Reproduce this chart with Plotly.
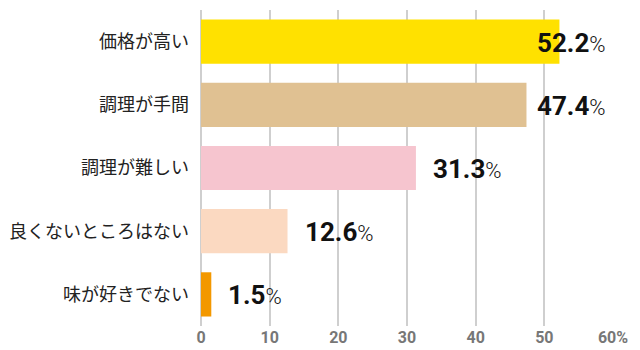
import plotly.graph_objects as go

# Survey answers (top to bottom) and share of respondents in percent
categories = ["価格が高い", "調理が手間", "調理が難しい", "良くないところはない", "味が好きでない"]
values = [52.2, 47.4, 31.3, 12.6, 1.5]
bar_colors = ["#FFE100", "#E0C192", "#F6C5CF", "#FBD9C1", "#F39800"]
tick_values = [0, 10, 20, 30, 40, 50, 60]
tick_labels = ["0", "10", "20", "30", "40", "50", "60%"]

X_MAX = 60
LABEL_GAP = 2.2      # space between bar end and its value label (data units)
LABEL_LIMIT = 48.6   # labels never start further right than this

fig = go.Figure(
    go.Bar(
        x=values,
        y=categories,
        orientation="h",
        marker=dict(color=bar_colors, line=dict(width=0)),
        hoverinfo="skip",
    )
)

for cat, v in zip(categories, values):
    fig.add_annotation(
        x=min(v + LABEL_GAP, LABEL_LIMIT),
        y=cat,
        xref="x",
        yref="y",
        xanchor="left",
        yanchor="middle",
        yshift=-1,
        showarrow=False,
        text=f"<b style='font-size:26px'>{v:.1f}</b>%",
        font=dict(family="Roboto", size=22, color="#111111", weight=300),
    )

fig.update_layout(
    width=640,
    height=350,
    margin=dict(l=201, r=27, t=10, b=24, autoexpand=False),
    paper_bgcolor="white",
    plot_bgcolor="white",
    bargap=0.3,
    showlegend=False,
    xaxis=dict(
        range=[0, X_MAX],
        tickvals=tick_values,
        ticktext=tick_labels,
        showgrid=True,
        gridcolor="#CFCFCF",
        gridwidth=1.5,
        zeroline=True,
        zerolinecolor="#CFCFCF",
        zerolinewidth=1.5,
        showline=False,
        ticks="",
        tickfont=dict(family="Roboto", size=16, color="#777777", weight="bold"),
        automargin=False,
        fixedrange=True,
    ),
    yaxis=dict(
        categoryorder="array",
        categoryarray=categories,
        autorange="reversed",
        showgrid=False,
        zeroline=False,
        showline=False,
        ticks="",
        ticklabelstandoff=11,
        tickfont=dict(family="Noto Sans CJK JP", size=18, color="#222222"),
        automargin=False,
        fixedrange=True,
    ),
)

fig.write_html("out.html")
